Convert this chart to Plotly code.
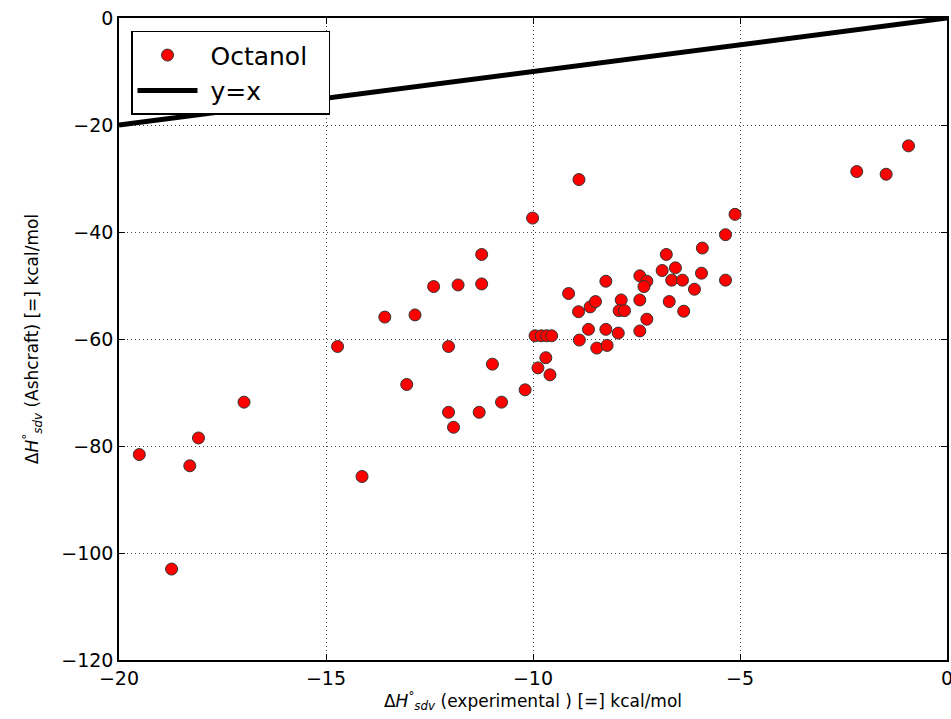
import plotly.graph_objects as go

exp_x = [-19.51, -18.73, -18.29, -18.08, -16.98, -14.13, -14.72, -13.58, -12.85, -13.05,
         -12.40, -12.04, -12.04, -11.92, -11.81, -11.30, -11.24, -11.24, -10.98, -10.76,
         -10.19, -10.01, -9.95, -9.80, -9.67, -9.55, -9.69, -9.88, -9.59, -9.14,
         -8.90, -8.89, -8.88, -8.66, -8.62, -8.49, -8.46, -8.24, -8.24, -8.21,
         -7.94, -7.87, -7.92, -7.79, -7.42, -7.25, -7.32, -7.42, -7.25, -7.42,
         -6.88, -6.78, -6.56, -6.65, -6.39, -6.71, -6.36, -6.10, -5.93, -5.91,
         -5.35, -5.12, -5.35, -2.18, -1.47, -0.93]
ash_y = [-81.6, -103.0, -83.7, -78.5, -71.8, -85.7, -61.4, -55.9, -55.5, -68.5,
         -50.2, -61.4, -73.7, -76.5, -49.9, -73.7, -44.2, -49.7, -64.7, -71.8,
         -69.5, -37.4, -59.4, -59.4, -59.4, -59.4, -63.5, -65.4, -66.7, -51.5,
         -54.9, -30.2, -60.2, -58.2, -54.0, -53.0, -61.7, -49.2, -58.2, -61.2,
         -58.9, -52.7, -54.7, -54.7, -48.2, -49.2, -50.2, -52.7, -56.3, -58.5,
         -47.2, -44.2, -46.7, -49.0, -49.0, -53.0, -54.8, -50.7, -47.7, -43.0,
         -40.5, -36.7, -49.0, -28.7, -29.2, -23.9]
line_x = [-20, 0]
line_y = [-20, 0]
x_ticks = [-20, -15, -10, -5, 0]
y_ticks = [-120, -100, -80, -60, -40, -20, 0]

NB = "\u00a0"

fig = go.Figure()
fig.add_trace(go.Scatter(
    x=exp_x, y=ash_y, mode="markers", name=NB + "Octanol" + NB * 2,
    marker=dict(color="#ff0000", size=12, line=dict(color="#333333", width=1)),
))
fig.add_trace(go.Scatter(
    x=line_x, y=line_y, mode="lines", name=NB + "y=x",
    line=dict(color="black", width=5),
))

axis_common = dict(
    showline=True, linecolor="black", linewidth=1.5, mirror="ticks",
    ticks="inside", ticklen=6, tickwidth=1, tickcolor="black",
    showgrid=True, gridcolor="#444444", gridwidth=1, griddash="1px,3px",
    zeroline=False, tickfont=dict(size=19, color="black"),
    ticklabeloverflow="allow", automargin=False,
)

fig.update_layout(
    width=951, height=719,
    margin=dict(l=119, r=4, t=18, b=59),
    paper_bgcolor="white", plot_bgcolor="white",
    font=dict(family="DejaVu Sans", color="black"),
    showlegend=True,
    legend=dict(
        x=0.0145, y=0.98, xanchor="left", yanchor="top",
        bordercolor="black", borderwidth=1.5, bgcolor="white",
        font=dict(size=25), itemwidth=60,
    ),
    xaxis=dict(
        range=[-20, 0], tickvals=x_ticks, **axis_common,
        title=dict(text="Δ<i>H</i><sup>°</sup><sub><i>sdv</i></sub> (experimental ) [=] kcal/mol",
                   font=dict(size=17), standoff=4),
    ),
    yaxis=dict(
        range=[-120, 0], tickvals=y_ticks, **axis_common,
        title=dict(text="Δ<i>H</i><sup>°</sup><sub><i>sdv</i></sub> (Ashcraft) [=] kcal/mol",
                   font=dict(size=17), standoff=18),
    ),
)

fig.write_html(
    "out.html",
    config={"displayModeBar": False},
    post_script="document.body.style.margin='0';document.body.style.overflow='hidden';",
)
